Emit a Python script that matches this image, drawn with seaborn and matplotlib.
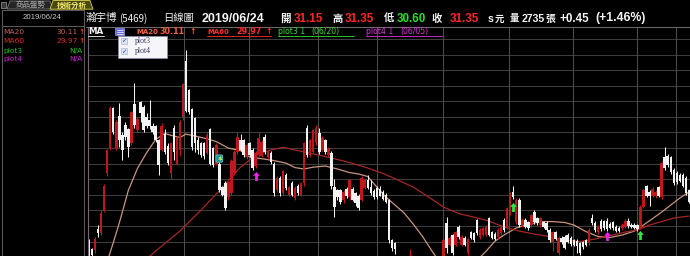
import matplotlib
matplotlib.use("Agg")
import matplotlib.pyplot as plt
import seaborn as sns
import numpy as np
import pandas as pd
from matplotlib.path import Path
from matplotlib.patches import Rectangle, Polygon

# ---------------- data ----------------
opens = [25.05, 24.5, 24.45, 25.8, 25.55, 27.0, 29.4, 31.0, 33.55, 31.0,
         33.05, 31.85, 32.5, 32.2, 31.3, 33.8, 32.15, 33.95, 33.65, 33.0,
         32.8, 32.4, 32.4, 31.5, 30.9, 31.9, 31.15, 29.4, 32.3, 30.0,
         30.9, 33.0, 36.6, 34.7, 33.5, 32.9, 31.5, 31.3, 31.3, 30.7,
         32.2, 31.0, 30.0, 30.0, 28.5, 28.75, 27.85, 28.1, 29.4, 30.75,
         31.55, 31.55, 30.45, 31.3, 30.9, 29.85, 30.55, 30.5, 31.7, 30.4,
         30.7, 30.0, 28.3, 29.1, 28.1, 29.3, 28.0, 28.75, 27.8, 28.6,
         28.0, 28.75, 32.3, 30.55, 30.75, 31.3, 31.95, 30.9, 31.5, 30.55,
         30.7, 28.5, 28.3, 28.3, 27.65, 28.4, 27.85, 28.35, 28.1, 27.95,
         27.7, 28.45, 28.95, 28.5, 28.25, 28.45, 28.4, 28.2, 28.0, 27.65,
         25.1, 24.9, 24.0, 23.5, 22.8, 23.4, 22.7, 23.6, 23.1, 22.5,
         23.2, 22.7, 22.1, 22.9, 23.8, 23.1, 23.9, 23.5, 26.2, 24.8,
         25.4, 24.8, 25.95, 24.8, 25.25, 24.25, 25.6, 25.55, 26.4, 25.3,
         25.45, 25.45, 26.5, 25.6, 25.5, 25.3, 25.56, 26.4, 25.9, 26.8,
         28.2, 26.25, 27.7, 26.06, 26.4, 26.25, 26.06, 26.9, 26.5, 26.06,
         26.25, 26.2, 25.75, 24.98, 25.6, 24.25, 25.25, 25.3, 25.45, 25.25,
         25.1, 25.05, 24.9, 24.95, 25.1, 24.9, 26.55, 26.2, 25.6, 26.3,
         26.3, 26.35, 26.15, 26.25, 25.95, 25.9, 25.85, 25.95, 26.3, 26.1,
         26.1, 26.06, 25.9, 27.25, 28.6, 28.2, 27.95, 27.9, 28.5, 27.85,
         30.4, 30.5, 30.4, 29.6, 29.4, 29.3, 29.3, 29.1, 28.3]
highs = [25.2, 24.6, 25.3, 26.05, 27.0, 28.7, 30.95, 33.7, 33.65, 32.8,
         33.9, 32.0, 32.7, 32.3, 33.4, 35.2, 33.0, 34.0, 33.75, 33.25,
         34.1, 32.6, 32.5, 31.6, 32.6, 32.2, 31.3, 31.4, 32.5, 31.8,
         32.8, 35.2, 37.3, 34.8, 33.6, 33.0, 31.7, 31.4, 31.4, 32.0,
         32.3, 31.1, 31.3, 30.1, 28.6, 28.9, 28.9, 30.3, 30.9, 32.0,
         31.9, 31.6, 31.3, 31.4, 31.0, 30.8, 32.0, 31.5, 31.9, 30.9,
         30.8, 30.1, 29.2, 29.2, 29.6, 29.4, 28.6, 28.9, 28.55, 28.7,
         28.85, 31.4, 32.45, 31.6, 32.25, 32.45, 32.3, 31.75, 31.6, 31.1,
         30.8, 29.0, 28.4, 28.4, 28.3, 28.5, 29.05, 28.5, 28.2, 28.05,
         29.2, 29.05, 29.3, 28.95, 28.35, 28.55, 28.55, 28.3, 28.1, 27.75,
         25.2, 25.0, 24.05, 23.6, 23.6, 23.5, 24.5, 23.8, 23.2, 23.3,
         23.3, 22.8, 23.0, 24.0, 23.9, 23.9, 24.0, 25.2, 26.6, 25.35,
         25.5, 25.7, 26.05, 25.4, 25.35, 25.25, 25.7, 25.65, 26.45, 25.85,
         25.95, 26.05, 26.6, 25.7, 25.6, 25.85, 26.05, 26.5, 27.25, 28.2,
         28.55, 27.8, 27.8, 26.5, 26.5, 26.35, 26.8, 27.0, 26.6, 26.6,
         26.35, 26.3, 25.85, 25.7, 25.7, 25.35, 25.35, 25.4, 25.55, 25.35,
         25.2, 25.15, 25.0, 25.05, 25.2, 25.85, 26.75, 26.3, 26.1, 26.45,
         26.4, 26.5, 26.25, 26.35, 26.05, 26.0, 26.2, 26.45, 26.5, 26.2,
         26.2, 26.15, 27.35, 28.4, 28.65, 28.3, 28.5, 28.3, 28.6, 30.15,
         31.1, 30.6, 30.5, 29.7, 29.5, 29.4, 29.4, 29.2, 28.4]
lows = [23.9, 24.0, 24.3, 25.3, 25.4, 26.9, 29.2, 30.9, 31.9, 30.9,
        31.1, 30.25, 31.5, 30.4, 31.2, 32.3, 32.0, 32.7, 32.0, 32.3,
        32.2, 31.9, 31.4, 29.3, 30.8, 30.6, 29.9, 29.0, 30.25, 29.9,
        30.5, 32.8, 33.3, 33.2, 30.9, 30.75, 30.6, 30.4, 30.3, 30.6,
        29.9, 29.8, 29.9, 28.2, 27.9, 27.0, 27.7, 28.0, 29.3, 30.6,
        30.8, 30.4, 30.3, 30.4, 29.6, 29.7, 30.4, 30.4, 30.6, 30.3,
        30.0, 27.9, 28.2, 27.9, 28.0, 28.3, 27.9, 27.9, 27.7, 28.0,
        27.9, 28.6, 30.45, 30.45, 30.6, 31.2, 30.6, 30.8, 30.6, 30.45,
        28.4, 26.6, 27.7, 27.4, 27.5, 27.8, 27.7, 27.6, 27.3, 27.0,
        27.6, 28.35, 28.35, 28.0, 27.75, 27.75, 27.9, 27.7, 27.5, 24.9,
        24.4, 24.2, 23.2, 22.6, 22.6, 22.5, 22.6, 22.9, 22.4, 22.4,
        22.5, 22.0, 22.0, 22.8, 23.0, 23.0, 23.2, 23.4, 24.3, 24.7,
        24.15, 24.7, 25.2, 24.7, 24.7, 24.15, 25.15, 25.0, 25.45, 25.2,
        25.35, 25.35, 25.35, 25.15, 25.1, 25.2, 25.45, 25.65, 25.8, 26.7,
        27.75, 26.15, 25.95, 25.95, 25.85, 25.75, 25.95, 26.15, 26.1, 25.95,
        25.85, 25.65, 25.0, 24.4, 25.1, 24.15, 24.85, 24.5, 24.9, 24.75,
        24.7, 24.3, 24.15, 24.55, 24.7, 24.8, 26.1, 25.65, 25.5, 25.7,
        25.75, 25.7, 25.8, 25.75, 25.6, 25.6, 25.75, 25.85, 25.9, 25.85,
        25.8, 25.7, 25.8, 27.15, 27.85, 27.3, 27.85, 27.8, 27.85, 27.75,
        29.6, 29.8, 29.35, 28.65, 28.7, 28.8, 28.5, 28.0, 27.45]
closes = [24.0, 24.15, 25.15, 25.55, 26.85, 28.6, 30.85, 33.6, 32.0, 32.7,
          31.5, 30.9, 31.7, 31.05, 33.3, 32.45, 32.85, 33.25, 32.15, 32.4,
          32.4, 32.0, 31.5, 29.9, 32.4, 30.75, 30.05, 31.3, 30.75, 31.7,
          32.7, 35.1, 33.4, 33.3, 31.05, 31.3, 30.9, 30.55, 30.5, 31.85,
          30.0, 29.9, 31.2, 28.3, 28.0, 27.15, 28.8, 30.2, 30.75, 31.7,
          30.9, 30.55, 31.2, 30.55, 29.7, 30.7, 31.65, 31.4, 30.75, 30.8,
          30.1, 28.1, 29.1, 28.1, 29.5, 28.45, 28.5, 28.0, 28.45, 28.1,
          28.75, 31.3, 30.55, 31.5, 32.15, 32.3, 30.75, 31.65, 30.75, 31.0,
          28.6, 27.2, 27.85, 27.55, 28.2, 27.95, 28.95, 27.7, 27.45, 27.15,
          29.1, 28.95, 28.45, 28.1, 27.85, 27.85, 27.95, 27.75, 27.55, 25.1,
          24.6, 24.55, 23.3, 22.8, 23.4, 22.7, 23.6, 23.0, 22.5, 23.2,
          22.6, 22.1, 22.9, 23.8, 23.1, 23.8, 23.4, 25.1, 24.6, 25.25,
          24.25, 25.6, 25.3, 25.3, 24.8, 25.15, 25.25, 25.1, 25.55, 25.75,
          25.88, 25.95, 25.45, 25.25, 25.2, 25.75, 25.95, 25.75, 27.15, 28.1,
          27.85, 27.7, 26.06, 26.4, 25.95, 25.85, 26.7, 26.25, 26.2, 26.5,
          25.95, 25.75, 25.1, 25.6, 25.2, 25.25, 24.95, 24.6, 25.0, 24.85,
          24.8, 24.7, 24.25, 24.65, 24.8, 25.75, 26.2, 25.75, 26.0, 25.8,
          25.85, 25.8, 25.9, 25.85, 25.7, 25.7, 26.1, 26.35, 26.0, 25.95,
          25.9, 25.8, 27.25, 28.3, 27.95, 27.9, 28.4, 28.2, 27.95, 30.05,
          29.7, 29.9, 29.45, 28.75, 28.8, 28.9, 28.6, 28.1, 27.55]

ma20_idx = [5, 8, 10, 13, 16, 19, 22, 25, 28, 30, 32, 35, 38, 42, 46, 50, 53, 57,
            61, 65, 68, 71, 74, 78, 82, 86, 89, 92, 95, 98, 101, 104, 107, 110,
            113, 116, 120, 124, 128, 131, 134, 137, 141, 145, 149, 153, 157, 160,
            164, 168, 172, 176, 180, 183, 186, 189, 192, 195, 198]
ma20_val = [23.1, 24.93, 26.2, 28.3, 29.7, 30.7, 31.55, 31.94, 31.77, 31.68, 31.9,
            31.77, 31.64, 31.42, 31.0, 30.84, 30.43, 30.32, 30.2, 30.04, 29.75,
            29.66, 29.78, 29.85, 29.66, 29.43, 29.34, 29.18, 28.5, 27.86, 27.35,
            26.84, 26.13, 25.36, 24.46, 23.6, 23.2, 23.3, 23.8, 24.38, 25.04,
            25.43, 25.88, 26.13, 26.28, 26.29, 26.23, 26.07, 25.65, 25.33, 25.27,
            25.43, 25.68, 26.07, 26.48, 26.9, 27.35, 27.8, 28.18]
ma60_idx = [18, 22, 26, 30, 33, 37, 41, 44, 47, 50, 53, 56, 60, 64, 68, 72, 77, 82,
            87, 92, 97, 102, 107, 112, 117, 122, 127, 132, 137, 142, 147, 152, 157,
            162, 167, 172, 177, 181, 185, 189, 193, 198]
ma60_val = [23.72, 24.4, 25.04, 25.68, 26.26, 27.03, 27.86, 28.45, 29.14, 29.78,
            30.23, 30.62, 30.88, 31.05, 30.88, 30.71, 30.5, 30.27, 30.02, 29.72,
            29.38, 28.95, 28.5, 27.88, 27.22, 26.8, 26.58, 26.32, 25.94, 25.68,
            25.49, 25.33, 25.11, 25.01, 25.17, 25.39, 25.62, 25.75, 26.07, 26.29,
            26.52, 26.64]

plot3_idx = [140, 182]
plot3_val = [27.2, 25.4]
plot4_idx = [55, 171]
plot4_val = [29.2, 25.35]
cash_idx = [43]
cash_val = [30.33]

month_lines = [31.35, 52.9, 75.7, 94.9, 116.9, 138.7, 159.8, 180.7, 193.7]
price_lines = list(range(25, 39))

# ---------------- style ----------------
sns.set_theme(style="dark", rc={"figure.facecolor": "black", "axes.facecolor": "black",
                                "savefig.facecolor": "black", "axes.grid": False})
plt.rcParams["font.family"] = ["DejaVu Sans", "Noto Sans CJK TC"]
CJK = ["Noto Sans CJK TC", "DejaVu Sans"]
LAT = ["Liberation Sans", "DejaVu Sans"]
DJ = ["DejaVu Sans"]

W, H = 690, 256
fig = plt.figure(figsize=(W / 100, H / 100), dpi=100, facecolor="black")

# ---------------- main price panel ----------------
ax = fig.add_axes([87.7 / W, 0, (W - 87.7) / W, (H - 26.5) / H])
ax.set_facecolor("black")
X0, X1 = -0.43, 198.35
Y0, Y1 = 24.083, 38.795
ax.set_xlim(X0, X1)
ax.set_ylim(Y0, Y1)
ax.axis("off")

ax.hlines(price_lines, X0, X1, colors="#3d3d3d", lw=0.75, zorder=0)
ax.vlines(month_lines, Y0, Y1, colors="#4d4d4d", lw=0.75, zorder=0)

df = pd.DataFrame({"o": opens, "h": highs, "l": lows, "c": closes})
df["i"] = np.arange(len(df))
up = df["c"] >= df["o"]
cols = np.where(up, "#c0161c", "#f2f2f2")

sns.lineplot(x=ma20_idx, y=ma20_val, ax=ax, color="#c8957f", lw=0.9, zorder=1)
sns.lineplot(x=ma60_idx, y=ma60_val, ax=ax, color="#a52626", lw=0.9, zorder=1)

ax.vlines(df["i"], df["l"], df["h"], colors=cols, lw=0.75, zorder=2)
bottom = np.minimum(df["o"], df["c"])
height = np.maximum((df["c"] - df["o"]).abs(), 0.06)
ax.bar(df["i"], height, bottom=bottom, width=0.82, color=cols, linewidth=0, zorder=3)

arrow = Path([(0, 1), (0.75, 0.15), (0.3, 0.15), (0.3, -1), (-0.3, -1),
              (-0.3, 0.15), (-0.75, 0.15), (0, 1)], closed=True)
ax.scatter(plot3_idx, plot3_val, marker=arrow, s=42, color="#22ee44", lw=0, zorder=5)
ax.scatter(plot4_idx, plot4_val, marker=arrow, s=42, color="#ee22ee", lw=0, zorder=5)
for xi, yi in zip(cash_idx, cash_val):
    ax.text(xi, yi, "$", fontsize=4.6, color="#b8ff70", ha="center", va="center",
            fontweight="bold", zorder=6,
            bbox=dict(boxstyle="round,pad=0.18", fc="#1d8a8a", ec="#58caca", lw=0.6))

# ---------------- overlay in pixel coordinates ----------------
ov = fig.add_axes([0, 0, 1, 1], zorder=5)
ov.set_xlim(0, W)
ov.set_ylim(H, 0)
ov.axis("off")
ov.patch.set_alpha(0)

ov.plot([86, W], [26.5, 26.5], color="#6a6a6a", lw=0.75)
ov.plot([87.7, 87.7], [26.5, H], color="#7a6478", lw=0.8)

# left info panel frame
for xs, ys in [([1.5, 1.5], [9.5, H]), ([84, 84], [9.5, H]),
               ([1.5, 84], [9.5, 9.5]), ([1.5, 84], [26, 26])]:
    ov.plot(xs, ys, color="#5a5a5a", lw=0.75)

# tabs
ov.add_patch(Rectangle((0.5, 1.5), 5.5, 6.5, fc="#3a3a3a", ec="#9a9a9a", lw=0.5))
ov.add_patch(Polygon([(7, 9), (10, 1), (50, 1), (53, 9)], closed=True,
                     fc="#252525", ec="#7a7a7a", lw=0.6))
ov.text(31, 5.2, "商品盤勢", family=CJK, fontsize=5.4, color="#a8a8a8",
        ha="center", va="center")
ov.add_patch(Polygon([(50, 9.2), (53, 0.5), (90, 0.5), (93, 9.2)], closed=True,
                     fc="#4a4812", ec="#c8c040", lw=0.7))
ov.text(72, 5.0, "技術分析", family=CJK, fontsize=5.4, color="#f8f070",
        ha="center", va="center", fontweight="bold")

ov.text(42, 17.6, "2019/06/24", family=LAT, fontsize=5.6, color="#c8c8c8",
        ha="center", va="center")

left_rows = [("MA20", "30.11", "↑", "#c06262", 31.7),
             ("MA60", "29.97", "↑", "#e02828", 41.0),
             ("plot3", "N/A", "", "#22c022", 50.7),
             ("plot4", "N/A", "", "#c028c0", 59.5)]
for lab, val, arr, colr, yy in left_rows:
    ov.text(3, yy, lab, family=DJ, fontsize=5.4, color=colr, va="center")
    if arr:
        ov.text(77.5, yy, val, family=DJ, fontsize=5.4, color=colr, va="center", ha="right")
        ov.text(78.5, yy, arr, family=DJ, fontsize=5.4, color="#ff3030", va="center",
                fontweight="bold")
    else:
        ov.text(82, yy, val, family=DJ, fontsize=5.4, color=colr, va="center", ha="right")

# header row 1
WHITE, RED, GREEN = "#f4f4f4", "#ff2626", "#26e026"
header = [(86, "瀚宇博", WHITE, CJK, "normal", 7.6),
          (119, "(5469)", WHITE, CJK, "normal", 7.0),
          (163, "日線圖", WHITE, CJK, "normal", 7.4),
          (202, "2019/06/24", WHITE, LAT, "bold", 9.0),
          (280, "開", WHITE, CJK, "bold", 7.6),
          (294, "31.15", RED, LAT, "bold", 8.4),
          (332, "高", WHITE, CJK, "bold", 7.4),
          (345, "31.35", RED, LAT, "bold", 8.4),
          (384, "低", WHITE, CJK, "bold", 7.4),
          (397, "30.60", GREEN, LAT, "bold", 8.4),
          (432, "收", WHITE, CJK, "bold", 7.4),
          (450, "31.35", RED, LAT, "bold", 8.4),
          (488, "s", WHITE, LAT, "bold", 7.6),
          (495, "元", WHITE, CJK, "bold", 6.8),
          (510, "量", WHITE, CJK, "bold", 6.8),
          (522, "2735", WHITE, LAT, "bold", 7.6),
          (545, "張", WHITE, CJK, "bold", 7.0),
          (560, "+0.45", WHITE, LAT, "bold", 8.4),
          (595, "(+1.46%)", WHITE, LAT, "bold", 8.8)]
for xx, s, colr, fam, wt, fs in header:
    ov.text(xx, 21.5, s, family=fam, fontsize=fs, color=colr, fontweight=wt,
            va="baseline", ha="left")

# header row 2 (legend)
row2 = [(88, "MA", "#f4f4f4", "bold", 6.2),
        (136, "MA20", "#f06040", "bold", 5.0),
        (160, "30.11", "#f06040", "bold", 5.8),
        (189, "↑", "#f06040", "bold", 5.6),
        (207, "MA60", "#ff2a2a", "bold", 5.0),
        (236.5, "29.97", "#ff2a2a", "bold", 5.8),
        (265, "↑", "#ff2a2a", "bold", 5.6),
        (278, "plot3 1", "#30e030", "normal", 5.6),
        (311.5, "(06/20)", "#30e030", "normal", 5.6),
        (366.5, "plot4 1", "#e030e0", "normal", 5.6),
        (400, "(06/05)", "#e030e0", "normal", 5.6)]
for xx, s, colr, wt, fs in row2:
    ov.text(xx, 34, s, family=DJ, fontsize=fs, color=colr, fontweight=wt,
            va="baseline", ha="left")
for x_a, x_b, colr in [(88, 104, "#f4f4f4"), (207, 271, "#ff2a2a"),
                       (278, 354, "#30e030"), (366, 442, "#e030e0")]:
    ov.plot([x_a, x_b], [35.6, 35.6], color=colr, lw=0.6)

# menu icon
ov.add_patch(Rectangle((115, 28), 9, 7, fc="#6a6ad0", ec="#9a9af0", lw=0.5))
for yy in (30, 31.8, 33.6):
    ov.plot([116.8, 122.5], [yy, yy], color="white", lw=0.5)

# popup list
ov.add_patch(Rectangle((117.7, 35.6), 49, 22, fc="#f6f6fa", ec="#8c8ca8", lw=0.6, zorder=6))
for yy, lab in [(41.0, "plot3"), (51.4, "plot4")]:
    ov.add_patch(Rectangle((121, yy - 3.0), 6.2, 6.0, fc="#dce3f4", ec="#a0a8c8",
                           lw=0.4, zorder=7))
    ov.text(124.1, yy, "✓", family=DJ, fontsize=4.6, color="#2a3c90", ha="center",
            va="center", zorder=8)
    ov.text(134.5, yy, lab, family=["Liberation Serif", "DejaVu Serif"], fontsize=5.6,
            color="#3a3a5a", ha="left", va="center", zorder=8)

fig.savefig("out.png", dpi=100, facecolor="black")
